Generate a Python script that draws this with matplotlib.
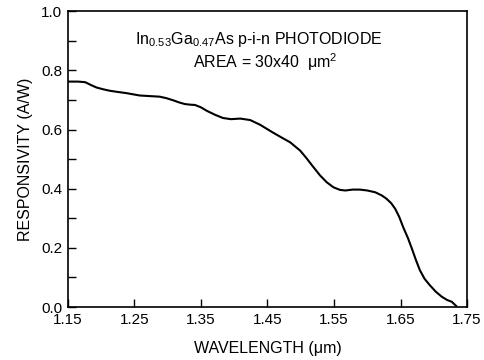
import matplotlib
matplotlib.use("Agg")
import matplotlib.pyplot as plt
from matplotlib.ticker import MultipleLocator

plt.rcParams['font.family'] = ['Liberation Sans', 'DejaVu Sans']
plt.rcParams['mathtext.fontset'] = 'custom'
plt.rcParams['mathtext.rm'] = 'Liberation Sans'
plt.rcParams['mathtext.default'] = 'regular'

# valores
wavelength = [1.150, 1.165, 1.176, 1.185, 1.193, 1.203, 1.213, 1.225, 1.238, 1.258,
              1.273, 1.288, 1.298, 1.308, 1.318, 1.326, 1.334, 1.341, 1.350, 1.359,
              1.371, 1.383, 1.395, 1.409, 1.424, 1.439, 1.458, 1.472, 1.484, 1.499,
              1.508, 1.518, 1.529, 1.539, 1.549, 1.559, 1.567, 1.578, 1.589, 1.600,
              1.612, 1.622, 1.629, 1.636, 1.642, 1.648, 1.654, 1.661, 1.667, 1.673,
              1.679, 1.686, 1.694, 1.703, 1.712, 1.720, 1.727, 1.734]
responsivity = [0.762, 0.762, 0.760, 0.750, 0.742, 0.736, 0.731, 0.727, 0.723, 0.715,
                0.713, 0.711, 0.706, 0.699, 0.691, 0.686, 0.684, 0.683, 0.675, 0.663,
                0.650, 0.639, 0.635, 0.637, 0.632, 0.616, 0.590, 0.572, 0.557, 0.529,
                0.505, 0.476, 0.445, 0.422, 0.405, 0.396, 0.394, 0.397, 0.397, 0.394,
                0.388, 0.377, 0.366, 0.351, 0.332, 0.305, 0.270, 0.234, 0.198, 0.160,
                0.125, 0.096, 0.074, 0.052, 0.035, 0.024, 0.018, 0.003]

x_ticks = [1.15, 1.25, 1.35, 1.45, 1.55, 1.65, 1.75]
y_ticks = [0.0, 0.2, 0.4, 0.6, 0.8, 1.0]

fig = plt.figure(figsize=(4.85, 3.6), dpi=100)
ax = fig.add_axes([0.140, 0.147, 0.823, 0.822])

ax.plot(wavelength, responsivity, color='black', linewidth=1.5)

ax.set_xlim(1.15, 1.75)
ax.set_ylim(0.0, 1.0)
ax.set_xticks(x_ticks)
ax.set_xticklabels([f'{v:.2f}' for v in x_ticks])
ax.set_yticks(y_ticks)
ax.set_yticklabels([f'{v:.1f}' for v in y_ticks])
ax.yaxis.set_minor_locator(MultipleLocator(0.1))

ax.tick_params(axis='both', which='both', direction='in', labelsize=11,
               top=False, right=False, width=1.0)
ax.tick_params(axis='both', which='major', length=6)
ax.tick_params(axis='x', which='major', pad=4)
ax.tick_params(axis='y', which='major', pad=4)
ax.tick_params(axis='y', which='minor', length=6)
for sp in ax.spines.values():
    sp.set_linewidth(1.2)

ax.set_xlabel('WAVELENGTH (μm)', fontsize=11.5, labelpad=10)
ax.set_ylabel('RESPONSIVITY (A/W)', fontsize=11.5, labelpad=6)

ax.text(1.437, 0.905, r'In$_{0.53}$Ga$_{0.47}$As p-i-n PHOTODIODE',
        ha='center', va='center', fontsize=11.5)
ax.text(1.447, 0.828, r'AREA = 30x40  μm$^{2}$',
        ha='center', va='center', fontsize=11.5)

fig.savefig('out.png', dpi=100)
